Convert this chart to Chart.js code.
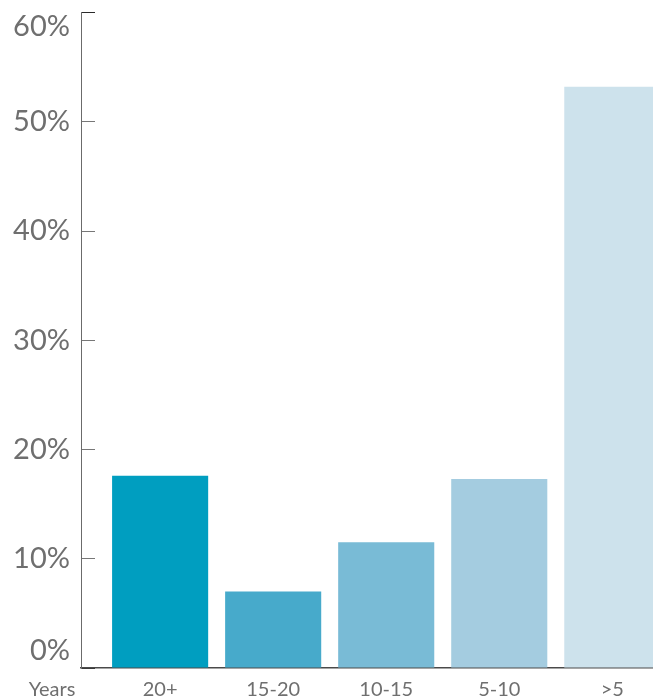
<!DOCTYPE html>
<html>
<head>
<meta charset="utf-8">
<script src="https://cdn.jsdelivr.net/npm/chart.js@4.4.1/dist/chart.umd.min.js"></script>
<style>
  html, body { margin: 0; padding: 0; background: #ffffff; overflow: hidden; }
  #wrap { position: relative; width: 653px; height: 698px; }
</style>
</head>
<body>
<div id="wrap"><canvas id="c" width="653" height="698"></canvas></div>
<script>
// ---- data ----
const categories = ['20+', '15-20', '10-15', '5-10', '>5'];
const shares = [17.6, 7.0, 11.5, 17.3, 53.2];
const yTickValues = [0, 10, 20, 30, 40, 50, 60];
const xAxisName = 'Years';
const barColors = ['#009ec0', '#47aacb', '#79bbd6', '#a4cce0', '#cde2ec'];

const textColor = '#6f6f6f';
const fontFamily = 'Lato, "Open Sans", sans-serif';

const yearsLabel = {
  id: 'yearsLabel',
  afterDraw(chart) {
    const { ctx, chartArea } = chart;
    const xs = chart.scales.x;
    ctx.save();
    ctx.font = '20px ' + fontFamily;
    ctx.fillStyle = textColor;
    ctx.textAlign = 'center';
    ctx.textBaseline = 'middle';
    ctx.fillText(xAxisName, chartArea.left - 29, xs.top + 22);
    ctx.restore();
  }
};

new Chart(document.getElementById('c'), {
  type: 'bar',
  data: {
    datasets: [{
      data: categories.map((c, i) => ({ x: i, y: shares[i] })),
      backgroundColor: barColors,
      borderWidth: 0,
      barPercentage: 0.85,
      categoryPercentage: 1.0
    }]
  },
  options: {
    responsive: false,
    animation: false,
    events: [],
    layout: { padding: { top: 12.5, left: 0, right: 0, bottom: 0 } },
    plugins: { legend: { display: false }, tooltip: { enabled: false } },
    scales: {
      x: {
        type: 'linear',
        offset: false,
        bounds: 'data',
        min: -0.7,
        max: 4.36,
        z: 1,
        grid: { display: false, drawTicks: false, offset: false },
        border: { display: true, color: '#4a4a4a', width: 1.5 },
        afterBuildTicks: (s) => { s.ticks = categories.map((c, i) => ({ value: i })); },
        afterFit: (s) => { s.height = 30; s.paddingLeft = 0; s.paddingRight = 0; },
        ticks: {
          autoSkip: false,
          maxRotation: 0,
          padding: 10,
          color: textColor,
          font: { family: fontFamily, size: 20 },
          callback: (v) => categories[v] !== undefined ? categories[v] : ''
        }
      },
      y: {
        min: 0,
        max: 60,
        afterBuildTicks: (s) => { s.ticks = yTickValues.map(v => ({ value: v })); },
        afterFit: (s) => { s.width = 81; s.paddingTop = 0; s.paddingBottom = 0; },
        grid: {
          drawOnChartArea: false,
          drawTicks: true,
          tickLength: -14,
          tickWidth: 1,
          tickColor: (ctx) => (ctx.tick && (ctx.tick.value === 60 || ctx.tick.value === 0)) ? '#2a2a2a' : '#777777'
        },
        border: { display: true, color: '#6b6b6b', width: 1 },
        ticks: {
          padding: 25,
          color: textColor,
          autoSkip: false,
          font: (ctx) => {
            const v = ctx.tick ? ctx.tick.value : null;
            let lh = 1.2;
            if (v === 60) lh = 0.95;
            if (v === 0) lh = 1.22;
            return { family: fontFamily, size: 29, lineHeight: lh };
          },
          callback: (v) => {
            if (v === 60) return ['', v + '%'];
            if (v === 0) return [v + '%', ''];
            return v + '%';
          }
        }
      }
    }
  },
  plugins: [yearsLabel]
});
</script>
</body>
</html>
